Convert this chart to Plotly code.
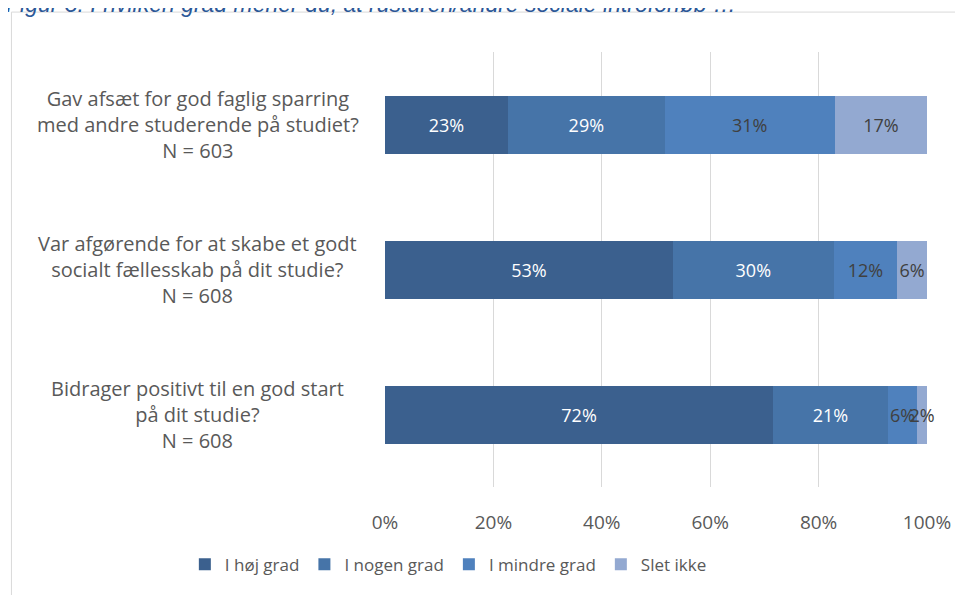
import plotly.graph_objects as go

questions = [
    "Gav afsæt for god faglig sparring<br>med andre studerende på studiet?<br>N = 603",
    "Var afgørende for at skabe et godt<br>socialt fællesskab på dit studie?<br>N = 608",
    "Bidrager positivt til en god start<br>på dit studie?<br>N = 608",
]
series = ["I høj grad", "I nogen grad", "I mindre grad", "Slet ikke"]
values = [
    [22.7, 53.1, 71.6],
    [28.9, 29.7, 21.2],
    [31.4, 11.7, 5.4],
    [17.0, 5.5, 1.8],
]
labels = [
    ["23%", "53%", "72%"],
    ["29%", "30%", "21%"],
    ["31%", "12%", "6%"],
    ["17%", "6%", "2%"],
]
colors = ["#3B608E", "#4674A8", "#4F81BD", "#93A9D1"]
text_colors = ["white", "white", "#404040", "#404040"]

FONT = "'Open Sans', sans-serif"
GREY = "#595959"

# the page puts the figure 8px in from the top-left corner
OFF = 8
W, H = 963 - OFF, 595 - OFF
L, T = 385 - OFF, 52 - OFF
R, B = W - (932 - OFF), H - (488 - OFF)
pw, ph = W - L - R, H - T - B


def px_x(x):
    return (x - OFF - L) / pw


def px_y(y):
    return 1 - (y - OFF - T) / ph


f = go.Figure()
for name, v, t, c, tc in zip(series, values, labels, colors, text_colors):
    f.add_trace(go.Bar(
        y=questions, x=v, name=name, orientation="h", marker=dict(color=c, line=dict(width=0)),
        text=t, texttemplate="%{text}", textposition="inside", insidetextanchor="middle",
        textangle=0, constraintext="none", cliponaxis=False,
        textfont=dict(color=tc, size=18, family=FONT), hoverinfo="skip",
    ))

for q in questions:
    f.add_annotation(x=px_x(196), xref="paper", y=q, yref="y", text=q, showarrow=False,
                     align="center", xanchor="center", yanchor="middle",
                     font=dict(size=20, color=GREY, family=FONT))

f.add_annotation(x=px_x(0), xref="paper", xanchor="left", y=px_y(4), yref="paper", yanchor="middle",
                 text="<i>Figur 3: I hvilken grad mener du, at rusturen/andre sociale introforløb …</i>",
                 showarrow=False, font=dict(size=23, color="#2B5797", family="Liberation Sans"))

f.add_shape(type="rect", xref="paper", yref="paper", x0=px_x(8), x1=px_x(975), y0=px_y(12), y1=px_y(610),
            line=dict(color="#D9D9D9", width=1), fillcolor="rgba(0,0,0,0)", layer="below")

f.update_layout(
    width=W, height=H, barmode="stack", bargap=0.6,
    margin=dict(l=L, r=R, t=T, b=B, pad=0),
    plot_bgcolor="white", paper_bgcolor="white",
    font=dict(family=FONT, color=GREY, size=18),
    xaxis=dict(range=[0, 100], tickvals=[0, 20, 40, 60, 80, 100], ticktext=["0%", "20%", "40%", "60%", "80%", "100%"],
               showgrid=True, gridcolor="#D9D9D9", gridwidth=1, zeroline=False, showline=False,
               ticklabelstandoff=22, tickfont=dict(size=19, color=GREY), fixedrange=True),
    yaxis=dict(autorange="reversed", showticklabels=False, showgrid=False, zeroline=False, fixedrange=True),
    legend=dict(orientation="h", x=px_x(183), xanchor="left", y=px_y(566), yanchor="middle",
                font=dict(size=17, color=GREY, family=FONT), itemwidth=30, traceorder="normal"),
    showlegend=True,
)

f.write_html("out.html")
